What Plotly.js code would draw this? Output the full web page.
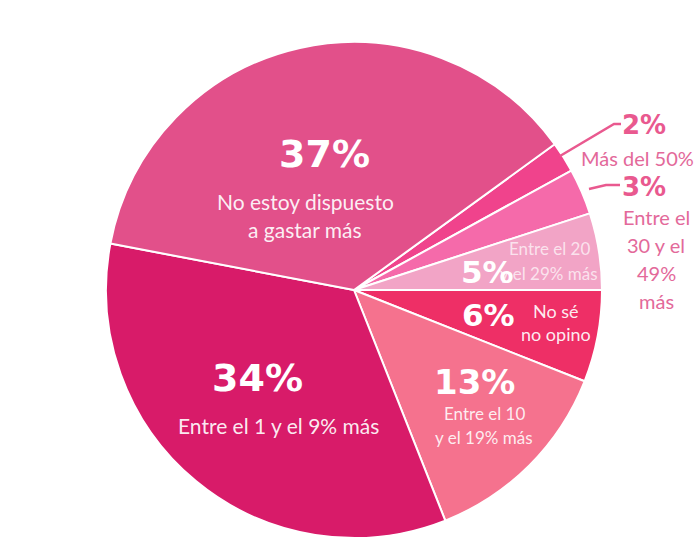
<!DOCTYPE html>
<html>
<head>
<meta charset="utf-8">
<script src="https://cdn.plot.ly/plotly-3.0.1.min.js"></script>
<style>html,body{margin:0;padding:0;background:#fff;}#chart{width:700px;height:550px;}</style>
</head>
<body>
<div id="chart"></div>
<script>
// ---- data ----
const categories = ["Más del 50%", "Entre el 30 y el 49% más", "Entre el 20 y el 29% más", "No sé no opino", "Entre el 10 y el 19% más", "Entre el 1 y el 9% más", "No estoy dispuesto a gastar más"];
const values = [2, 3, 5, 6, 13, 34, 37];
const pctLabels = ["2%", "3%", "5%", "6%", "13%", "34%", "37%"];
const descLines = [
  ["Más del 50%"],
  ["Entre el", "30 y el", "49%", "más"],
  ["Entre el 20", "y el 29% más"],
  ["No sé", "no opino"],
  ["Entre el 10", "y el 19% más"],
  ["Entre el 1 y el 9% más"],
  ["No estoy dispuesto", "a gastar más"]
];
const colors = ["#f0438c", "#f56aaa", "#f2a4c6", "#ee2f66", "#f5728e", "#d81b69", "#e2508a"];

// ---- layout helpers ----
const W = 700, H = 550;
const px = x => x / W;
const py = y => 1 - y / H;

// label placement (pixel positions), not data
const pctPos = [[644,125,26],[644,187,26],[487,272,31],[488,315,31],[474,382,34],[257,378,38],[324,154,38]];
const descPos = [
  {x:637, y:158, dy:0, size:20, color:"#e3699a"},
  {x:656, y:217, dy:28, size:20, color:"#e3699a"},
  {x:549, y:249, dy:24, size:17, color:"rgba(255,255,255,0.7)"},
  {x:556, y:311, dy:23, size:18, color:"rgba(255,255,255,0.92)"},
  {x:484, y:413, dy:24, size:17, color:"rgba(255,255,255,0.88)"},
  {x:278, y:425, dy:0, size:21, color:"rgba(255,255,255,0.92)"},
  {x:305, y:202, dy:27, size:21, color:"rgba(255,255,255,0.92)"}
];
const pctColor = ["#e9598f","#e9598f","#ffffff","#ffffff","#ffffff","#ffffff","#ffffff"];

const annotations = [];
values.forEach((v, i) => {
  const d = descPos[i];
  descLines[i].forEach((line, k) => {
    annotations.push({
      x: px(d.x), y: py(d.y + k * d.dy), xref: "paper", yref: "paper",
      text: line, showarrow: false, xanchor: "center", yanchor: "middle",
      font: {family: "Lato, Open Sans, sans-serif", size: d.size, color: d.color}
    });
  });
});
values.forEach((v, i) => {
  annotations.push({
    x: px(pctPos[i][0]), y: py(pctPos[i][1]), xref: "paper", yref: "paper",
    text: pctLabels[i], showarrow: false, xanchor: "center", yanchor: "middle",
    font: {family: "DejaVu Sans, sans-serif", size: pctPos[i][2], color: pctColor[i], weight: "bold"}
  });
});

const shapes = [
  {type: "path", xref: "paper", yref: "paper",
   path: `M ${px(560)} ${py(156)} L ${px(614)} ${py(124)} L ${px(621)} ${py(124)}`,
   line: {color: "#e9598f", width: 2.5}},
  {type: "path", xref: "paper", yref: "paper",
   path: `M ${px(589)} ${py(189)} L ${px(606)} ${py(185)} L ${px(620)} ${py(185)}`,
   line: {color: "#e9598f", width: 2.5}}
];

const trace = {
  type: "pie",
  labels: categories,
  values: values,
  sort: false,
  direction: "clockwise",
  rotation: 54,
  marker: {colors: colors, line: {color: "#ffffff", width: 2}},
  textinfo: "none",
  hoverinfo: "label+percent",
  domain: {x: [px(106), px(602)], y: [py(538), py(42)]}
};

const layout = {
  width: W, height: H,
  margin: {l: 0, r: 0, t: 0, b: 0},
  showlegend: false,
  paper_bgcolor: "#ffffff",
  annotations: annotations,
  shapes: shapes
};

Plotly.newPlot("chart", [trace], layout, {displayModeBar: false, staticPlot: true});
</script>
</body>
</html>
